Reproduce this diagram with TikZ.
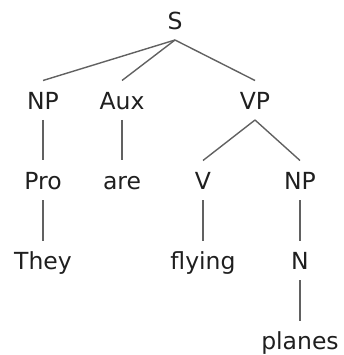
\documentclass[tikz,border=0pt]{standalone}
\usepackage{fontspec}
\setmainfont{DejaVu Sans}
\begin{document}
\begin{tikzpicture}[x=1pt,y=-1pt,
  lbl/.style={inner sep=0pt, outer sep=0pt, text height=29pt, text depth=10.5pt, font=\fontsize{23.5}{28}\selectfont, text=black!88, anchor=base},
  br/.style={draw=black!62, line width=1.4pt}]
\useasboundingbox (0,0) rectangle (344,355);
\node[lbl] (S) at (175,29.5) {S};
\node[lbl] (NP) at (43,109.5) {NP};
\node[lbl] (Aux) at (122,109.5) {Aux};
\node[lbl] (VP) at (255,109.5) {VP};
\node[lbl] (Pro) at (43,189.5) {Pro};
\node[lbl] (are) at (122,189.5) {are};
\node[lbl] (V) at (203,189.5) {V};
\node[lbl] (NP2) at (300,189.5) {NP};
\node[lbl] (They) at (43,269.5) {They};
\node[lbl] (flying) at (203,269.5) {flying};
\node[lbl] (N) at (300,269.5) {N};
\node[lbl] (planes) at (300,349.5) {planes};
\draw[br] (S.south) -- (NP.north);
\draw[br] (S.south) -- (Aux.north);
\draw[br] (S.south) -- (VP.north);
\draw[br] (NP.south) -- (Pro.north);
\draw[br] (Aux.south) -- (are.north);
\draw[br] (VP.south) -- (V.north);
\draw[br] (VP.south) -- (NP2.north);
\draw[br] (Pro.south) -- (They.north);
\draw[br] (V.south) -- (flying.north);
\draw[br] (NP2.south) -- (N.north);
\draw[br] (N.south) -- (planes.north);
\end{tikzpicture}
\end{document}
